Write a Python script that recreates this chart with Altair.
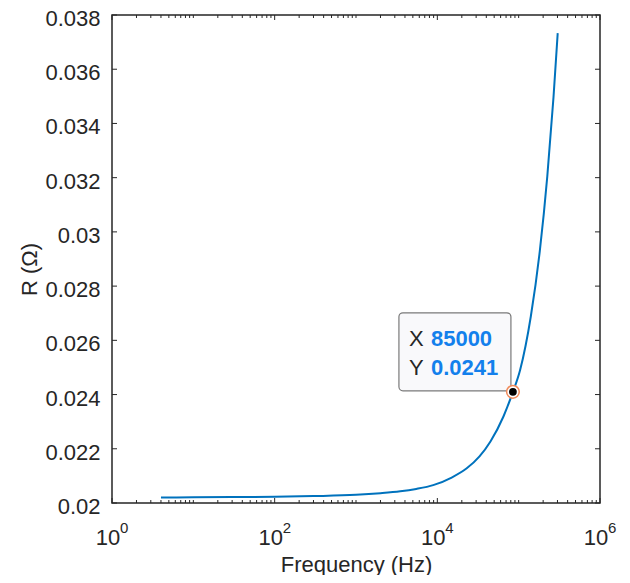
import altair as alt
import pandas as pd

# ---- data ----
freq = [4, 10, 30, 100, 300, 1000, 2000, 3500, 5500, 8900, 15000, 23000, 33000,
        45000, 65000, 85000, 104000, 141000, 182000, 225000, 268000, 302000]
resist = [0.02020, 0.02021, 0.02022, 0.02023, 0.020255, 0.02030, 0.02036, 0.02043,
          0.02052, 0.02066, 0.02094, 0.02128, 0.02172, 0.02227, 0.02319, 0.02410,
          0.02490, 0.02688, 0.02930, 0.03206, 0.03496, 0.03733]

tip_x = [85000]
tip_y = [0.0241]
tip_xtext = ["85000"]
tip_ytext = ["0.0241"]

x_major = [1, 100, 10000, 1000000]
x_exponents = ["0", "2", "4", "6"]
y_ticks = [0.02, 0.022, 0.024, 0.026, 0.028, 0.03, 0.032, 0.034, 0.036, 0.038]
x_minor = [m * 10 ** k for k in range(6) for m in range(2, 11)
           if m * 10 ** k not in x_major]

W, H = 488, 488
FONT = "Liberation Sans"
INK = "#262626"

xs = alt.Scale(type="log", domain=[1, 1000000], nice=False)
ys = alt.Scale(domain=[0.02, 0.038], nice=False, zero=False)

x_axis = alt.Axis(values=x_major, labelExpr="'10'", title="Frequency (Hz)",
                  labelPadding=24, labelOffset=-4.5, titlePadding=6,
                  labelFlush=False, labelOverlap=False)
y_axis = alt.Axis(values=y_ticks, format=".3~f", title="R (Ω)",
                  labelPadding=12, titlePadding=3, labelOffset=3.5,
                  labelFlush=False, labelOverlap=False, titleY=H / 2 + 10)

X = alt.X("f:Q", scale=xs, axis=x_axis, title="Frequency (Hz)")
Y = alt.Y("r:Q", scale=ys, axis=y_axis, title="R (Ω)")

df = pd.DataFrame({"f": freq, "r": resist})
tip = pd.DataFrame({"f": tip_x, "r": tip_y, "xt": tip_xtext, "yt": tip_ytext})
maj = pd.DataFrame({"f": x_major, "e": x_exponents})
mino = pd.DataFrame({"f": x_minor})
yt = pd.DataFrame({"r": y_ticks})

line = alt.Chart(df).mark_line(color="#0072BD", strokeWidth=2,
                               interpolate="monotone").encode(x=X, y=Y)

def xtick(data, length, top):
    if top:
        return alt.Chart(data).mark_rule(color=INK, strokeWidth=1).encode(
            x=X, y=alt.value(0), y2=alt.value(length))
    return alt.Chart(data).mark_rule(color=INK, strokeWidth=1).encode(
        x=X, y=alt.value(H), y2=alt.value(H - length))

def ytick(right):
    x0 = W if right else 0
    x1 = W - 5 if right else 5
    return alt.Chart(yt).mark_rule(color=INK, strokeWidth=1).encode(
        y=Y, x=alt.value(x0), x2=alt.value(x1))

ticks = [xtick(maj, 5, False), xtick(maj, 5, True), xtick(mino, 3, False),
         xtick(mino, 3, True), ytick(False), ytick(True)]

expo = alt.Chart(maj).mark_text(align="left", baseline="alphabetic", fontSize=15,
                                font=FONT, color=INK, dx=8).encode(
    x=X, y=alt.value(518), text="e:N")

box = alt.Chart(tip).mark_rect(fill="#f9f9fb", stroke="#7a7a7a", strokeWidth=1.2,
                               cornerRadius=4, xOffset=-114, x2Offset=-2,
                               yOffset=-79, y2Offset=-1).encode(
    x=X, x2="f:Q", y=Y, y2="r:Q")

def tiptext(text, dx, dy, color, weight, field=None):
    m = alt.Chart(tip).mark_text(align="left", baseline="alphabetic", fontSize=22,
                                 font=FONT, color=color, fontWeight=weight,
                                 dx=dx, dy=dy)
    enc = dict(x=X, y=Y)
    if field:
        enc["text"] = alt.Text(field + ":N")
    else:
        enc["text"] = alt.value(text)
    return m.encode(**enc)

texts = [tiptext("X", -104, -46, INK, "normal"),
         tiptext("Y", -104, -17, INK, "normal"),
         tiptext(None, -82, -46, "#1380ec", "bold", "xt"),
         tiptext(None, -82, -17, "#1380ec", "bold", "yt")]

ring = alt.Chart(tip).mark_point(shape="circle", filled=True, fill="white",
                                 stroke="#f08a5a", strokeWidth=1.5, size=160,
                                 opacity=1).encode(x=X, y=Y)
dot = alt.Chart(tip).mark_point(shape="circle", filled=True, fill="black",
                                size=60, opacity=1, strokeWidth=0).encode(x=X, y=Y)

chart = alt.layer(line, *ticks, expo, box, *texts, ring, dot).properties(
    width=W, height=H,
    autosize=alt.AutoSizeParams(type="none"),
    padding={"left": 104, "top": 7, "right": 20, "bottom": 72},
).configure_view(stroke=INK, strokeWidth=1.5).configure_axis(
    domain=False, ticks=False, tickSize=0, grid=False,
    labelFont=FONT, labelFontSize=22, labelColor=INK,
    titleFont=FONT, titleFontSize=22, titleFontWeight="normal", titleColor=INK,
)

chart.save("out.html", embed_options={"renderer": "svg", "actions": False})
